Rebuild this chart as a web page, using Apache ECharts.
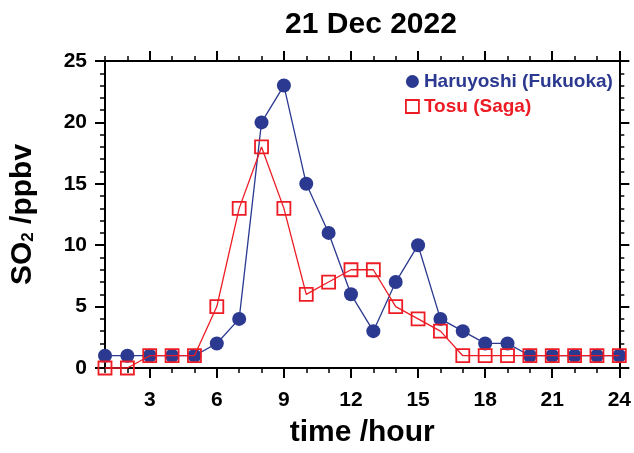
<!DOCTYPE html>
<html>
<head>
<meta charset="utf-8">
<script src="https://cdn.jsdelivr.net/npm/echarts@6/dist/echarts.min.js"></script>
<style>html,body{margin:0;padding:0;background:#fff;}#c{width:634px;height:453px;}</style>
</head>
<body>
<div id="c"></div>
<script>
var hours = [1,2,3,4,5,6,7,8,9,10,11,12,13,14,15,16,17,18,19,20,21,22,23,24];
var haruyoshi = [1,1,1,1,1,2,4,20,23,15,11,6,3,7,10,4,3,2,2,1,1,1,1,1];
var tosu = [0,0,1,1,1,5,13,18,13,6,7,8,8,5,4,3,1,1,1,1,1,1,1,1];
var xMajorTicks = [3,6,9,12,15,18,21,24];
var seriesNames = ['Haruyoshi (Fukuoka)', 'Tosu (Saga)'];
var titleText = '21 Dec 2022';
var xName = 'time /hour';

var BLUE = '#2b3990';
var RED = '#ed1c24';
var FONT = 'Liberation Sans, Arial, sans-serif';

function pairs(xs, ys){ return xs.map(function(x,i){ return [x, ys[i]]; }); }

var chart = echarts.init(document.getElementById('c'), null, {renderer:'canvas'});
var axisLineStyle = {color:'#000', width:2};
var labelStyle = {color:'#000', fontFamily:FONT, fontWeight:'bold', fontSize:21};

var option = {
  backgroundColor:'#fff',
  animation:false,
  title:{
    text:titleText, left:366, top:5, textAlign:'center',
    textStyle:{fontFamily:FONT, fontWeight:'bold', fontSize:30, color:'#000'}
  },
  legend:{
    orient:'vertical', left:400, top:67, itemWidth:13, itemHeight:13, itemGap:6,
    textStyle:{fontFamily:FONT, fontWeight:'bold', fontSize:19},
    data:[
      {name:seriesNames[0], icon:'circle', itemStyle:{color:BLUE}, textStyle:{color:BLUE}},
      {name:seriesNames[1], icon:'rect', itemStyle:{color:'rgba(0,0,0,0)', borderColor:RED, borderWidth:1.8}, textStyle:{color:RED}}
    ]
  },
  grid:{left:104, right:12, top:61, bottom:81},
  xAxis:[
    {type:'value', min:1, max:24, position:'bottom',
     name:xName, nameLocation:'middle', nameGap:50,
     nameTextStyle:{fontFamily:FONT, fontWeight:'bold', fontSize:30, color:'#000'},
     axisLine:{show:true, onZero:false, lineStyle:axisLineStyle},
     axisTick:{show:true, customValues:xMajorTicks, length:10, lineStyle:{color:'#000', width:2}},
     axisLabel:Object.assign({customValues:xMajorTicks, margin:22}, labelStyle),
     splitLine:{show:false}},
    {type:'value', min:1, max:24, interval:1, position:'bottom',
     axisLine:{show:false, onZero:false},
     axisTick:{show:true, length:5, lineStyle:{color:'#000', width:1.5}},
     axisLabel:{show:false}, splitLine:{show:false}},
    {type:'value', min:1, max:24, position:'top',
     axisLine:{show:true, onZero:false, lineStyle:axisLineStyle},
     axisTick:{show:true, customValues:xMajorTicks, length:10, lineStyle:{color:'#000', width:2}},
     axisLabel:{show:false}, splitLine:{show:false}},
    {type:'value', min:1, max:24, interval:1, position:'top',
     axisLine:{show:false, onZero:false},
     axisTick:{show:true, length:5, lineStyle:{color:'#000', width:1.5}},
     axisLabel:{show:false}, splitLine:{show:false}}
  ],
  yAxis:[
    {type:'value', min:0, max:25, interval:5, position:'left',
     name:'{a|SO}{b|2}{a| /ppbv}', nameLocation:'middle', nameGap:64, nameRotate:90,
     nameTextStyle:{color:'#000', rich:{
       a:{fontFamily:FONT, fontWeight:'bold', fontSize:30, color:'#000', lineHeight:36, verticalAlign:'middle'},
       b:{fontFamily:FONT, fontWeight:'bold', fontSize:17, color:'#000', lineHeight:36, verticalAlign:'bottom', padding:[0,0,4,0]}
     }},
     axisLine:{show:true, onZero:false, lineStyle:axisLineStyle},
     axisTick:{show:true, length:10, lineStyle:{color:'#000', width:2}},
     minorTick:{show:true, splitNumber:5, length:5, lineStyle:{color:'#000', width:1.5}},
     axisLabel:Object.assign({margin:18}, labelStyle),
     splitLine:{show:false}},
    {type:'value', min:0, max:25, interval:5, position:'right',
     axisLine:{show:true, onZero:false, lineStyle:axisLineStyle},
     axisTick:{show:true, length:10, lineStyle:{color:'#000', width:2}},
     minorTick:{show:true, splitNumber:5, length:5, lineStyle:{color:'#000', width:1.5}},
     axisLabel:{show:false}, splitLine:{show:false}}
  ],
  series:[
    {name:seriesNames[0], type:'line', xAxisIndex:0, yAxisIndex:0, data:pairs(hours, haruyoshi),
     symbol:'circle', symbolSize:14, clip:false,
     lineStyle:{color:BLUE, width:1.3}, itemStyle:{color:BLUE}, z:3},
    {name:seriesNames[1], type:'line', xAxisIndex:0, yAxisIndex:0, data:pairs(hours, tosu),
     symbol:'rect', symbolSize:13, clip:false,
     lineStyle:{color:RED, width:1.3}, itemStyle:{color:'rgba(0,0,0,0)', borderColor:RED, borderWidth:1.8}, z:4}
  ]
};
chart.setOption(option);
</script>
</body>
</html>
